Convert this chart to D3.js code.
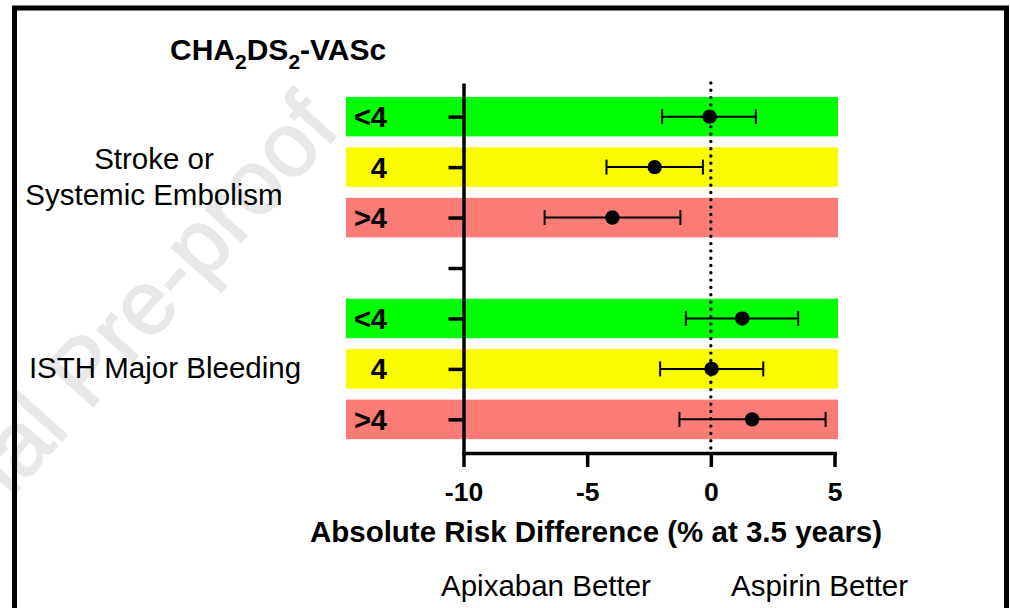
<!DOCTYPE html>
<html>
<head>
<meta charset="utf-8">
<script src="https://cdn.jsdelivr.net/npm/d3@7"></script>
<style>
  html, body { margin: 0; padding: 0; background: #fff; }
  svg { display: block; }
  text { font-family: "Liberation Sans", Arial, sans-serif; fill: #000; }
</style>
</head>
<body>
<svg id="chart" width="1010" height="608"></svg>
<script>
// ---- data ----
const categories = ["<4", "4", ">4"];
const outcomes = ["Stroke or Systemic Embolism", "ISTH Major Bleeding"];
const strokeEst = [-0.05, -2.27, -3.98];
const strokeLo  = [-1.97, -4.22, -6.72];
const strokeHi  = [1.82, -0.32, -1.23];
const bleedEst  = [1.27, 0.03, 1.67];
const bleedLo   = [-1.01, -2.05, -1.27];
const bleedHi   = [3.53, 2.12, 4.64];
const xTicks = [-10, -5, 0, 5];
const bandColors = ["#00ff00", "#fbfb00", "#fb7b77"];

// rows: 1..3 stroke, 4 empty, 5..7 bleeding
const rows = [];
categories.forEach((c, i) => rows.push({row: i + 1, cat: c, color: bandColors[i], est: strokeEst[i], lo: strokeLo[i], hi: strokeHi[i]}));
categories.forEach((c, i) => rows.push({row: i + 5, cat: c, color: bandColors[i], est: bleedEst[i], lo: bleedLo[i], hi: bleedHi[i]}));
const allRows = [1, 2, 3, 4, 5, 6, 7];

const svg = d3.select("#chart");

const x = d3.scaleLinear().domain([-10, 5]).range([463.5, 834.5]);
const y = d3.scaleLinear().domain([1/3, 23/3]).range([83, 453]);
const bandH = 39.5;

// watermark
svg.append("text")
  .attr("transform", "translate(342,130) rotate(-48)")
  .attr("text-anchor", "end")
  .attr("font-size", 91)
  .style("fill", "#e8e8e8")
  .style("stroke", "#e8e8e8")
  .style("stroke-width", 1.6)
  .text("Journal Pre-proof");

// frame
svg.append("path")
  .attr("d", "M14.5,620 V8 H1006.5 V620")
  .attr("fill", "none").attr("stroke", "#000").attr("stroke-width", 5);

// title
const title = svg.append("text").attr("x", 170).attr("y", 60)
  .attr("font-size", 30).attr("font-weight", "bold");
title.append("tspan").text("CHA");
title.append("tspan").attr("font-size", 21).attr("dy", 9).text("2");
title.append("tspan").attr("dy", -9).text("DS");
title.append("tspan").attr("font-size", 21).attr("dy", 9).text("2");
title.append("tspan").attr("dy", -9).text("-VASc");

// bands
const bandLeft = x(-10) - 117.5;
const bandRight = x(5) + 3.5;
svg.append("g").selectAll("rect").data(rows).join("rect")
  .attr("x", bandLeft)
  .attr("y", d => y(d.row) - bandH / 2)
  .attr("width", bandRight - bandLeft)
  .attr("height", bandH)
  .attr("fill", d => d.color);

// row labels
svg.append("g").selectAll("text").data(rows).join("text")
  .attr("x", bandLeft + 41)
  .attr("y", d => y(d.row) + 10.5)
  .attr("text-anchor", "end")
  .attr("font-size", 29).attr("font-weight", "bold")
  .text(d => d.cat);

// outcome labels
svg.append("text").attr("x", 154).attr("y", y(2) + 2)
  .attr("text-anchor", "middle").attr("font-size", 29.5).text("Stroke or");
svg.append("text").attr("x", 154).attr("y", y(2) + 38)
  .attr("text-anchor", "middle").attr("font-size", 29.5).text("Systemic Embolism");
svg.append("text").attr("x", 165).attr("y", y(6) + 9)
  .attr("text-anchor", "middle").attr("font-size", 29.5).text(outcomes[1]);

// dotted zero line
svg.append("line")
  .attr("x1", x(0)).attr("x2", x(0))
  .attr("y1", y(1/3)).attr("y2", y(23/3))
  .attr("stroke", "#000").attr("stroke-width", 3.4)
  .attr("stroke-linecap", "round").attr("stroke-dasharray", "0 7.3");

// y axis
const yAxis = svg.append("g").attr("transform", `translate(${x(-10)},0)`)
  .call(d3.axisLeft(y).tickValues(allRows).tickSize(15).tickFormat("").tickSizeOuter(0));
yAxis.select(".domain").attr("stroke-width", 3.5);
yAxis.selectAll(".tick line").attr("stroke-width", 3.5);

// x axis
const xAxis = svg.append("g").attr("transform", `translate(0,${y(23/3)})`)
  .call(d3.axisBottom(x).tickValues(xTicks).tickFormat(d => String(d))
    .tickSize(14).tickSizeOuter(0));
xAxis.select(".domain").attr("stroke-width", 3.5).attr("stroke-linecap", "square");
xAxis.selectAll(".tick line").attr("stroke-width", 3.5);
xAxis.selectAll(".tick text")
  .attr("font-family", "'Liberation Sans', Arial, sans-serif")
  .attr("font-size", 26.5).attr("font-weight", "bold").attr("fill", "#000")
  .attr("dy", 0).attr("y", 47.5);

// error bars
const eb = svg.append("g").selectAll("g").data(rows).join("g");
eb.append("line")
  .attr("x1", d => x(d.lo)).attr("x2", d => x(d.hi))
  .attr("y1", d => y(d.row)).attr("y2", d => y(d.row))
  .attr("stroke", "#000").attr("stroke-width", 2);
eb.append("line")
  .attr("x1", d => x(d.lo)).attr("x2", d => x(d.lo))
  .attr("y1", d => y(d.row) - 7.5).attr("y2", d => y(d.row) + 7.5)
  .attr("stroke", "#000").attr("stroke-width", 2);
eb.append("line")
  .attr("x1", d => x(d.hi)).attr("x2", d => x(d.hi))
  .attr("y1", d => y(d.row) - 7.5).attr("y2", d => y(d.row) + 7.5)
  .attr("stroke", "#000").attr("stroke-width", 2);
eb.append("circle")
  .attr("cx", d => x(d.est)).attr("cy", d => y(d.row)).attr("r", 7.2)
  .attr("fill", "#000");

// axis title and direction labels
svg.append("text").attr("x", 596).attr("y", 542)
  .attr("text-anchor", "middle").attr("font-size", 29.5).attr("font-weight", "bold")
  .text("Absolute Risk Difference (% at 3.5 years)");
svg.append("text").attr("x", 441).attr("y", 596)
  .attr("font-size", 29.5).text("Apixaban Better");
svg.append("text").attr("x", 731).attr("y", 596)
  .attr("font-size", 29.5).text("Aspirin Better");
</script>
</body>
</html>
